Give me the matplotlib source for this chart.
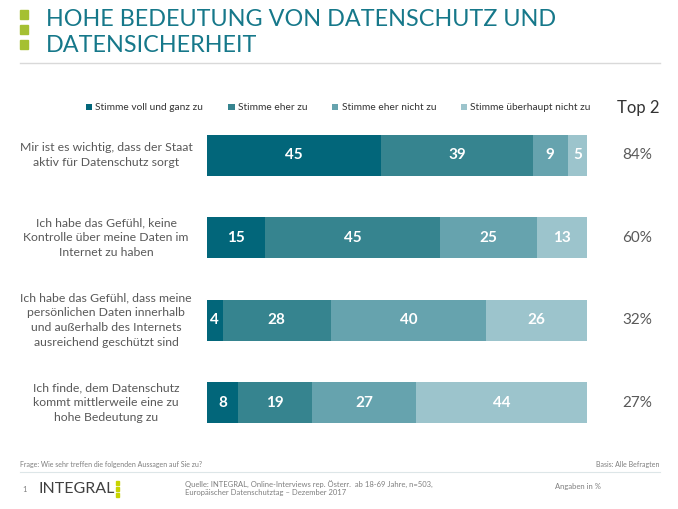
import matplotlib.pyplot as plt
from matplotlib.patches import Rectangle
import numpy as np

plt.rcParams['font.family'] = ['Lato', 'DejaVu Sans']

statements = [
    "Mir ist es wichtig, dass der Staat\naktiv für Datenschutz sorgt",
    "Ich habe das Gefühl, keine\nKontrolle über meine Daten im\nInternet zu haben",
    "Ich habe das Gefühl, dass meine\npersönlichen Daten innerhalb\nund außerhalb des Internets\nausreichend geschützt sind",
    "Ich finde, dem Datenschutz\nkommt mittlerweile eine zu\nhohe Bedeutung zu",
]
answers = ["Stimme voll und ganz zu", "Stimme eher zu",
           "Stimme eher nicht zu", "Stimme überhaupt nicht zu"]
voll = [45, 15, 4, 8]
eher = [39, 45, 28, 19]
eher_nicht = [9, 25, 40, 27]
gar_nicht = [5, 13, 26, 44]
top2 = ["84%", "60%", "32%", "27%"]

colors = ["#02667a", "#36848f", "#66a3ae", "#9cc4cc"]
grey = "#595959"

W, H = 678, 509
fig = plt.figure(figsize=(W / 100, H / 100), dpi=100)

# axes placed in pixel terms: bars start at x=207, 98 units = 380 px
left, right = 207, 207 + 380 / 98 * 100
top, bottom = 114, 444
ax = fig.add_axes([left / W, 1 - bottom / H, (right - left) / W, (bottom - top) / H])
ax.set_xlim(0, 100)
ax.set_ylim(3.5, -0.5)
ax.axis('off')

y = np.arange(len(statements))
series = [voll, eher, eher_nicht, gar_nicht]
start = np.zeros(len(statements))
handles = []
for vals, col, name in zip(series, colors, answers):
    bars = ax.barh(y, vals, left=start, height=0.5, color=col, label=name)
    handles.append(bars)
    for yi, v, s in zip(y, vals, start):
        ax.text(s + v / 2, yi, str(v), ha='center', va='center',
                color='white', fontsize=11, fontweight='bold')
    start = start + np.array(vals)

for yi, txt in zip(y, statements):
    ax.annotate(txt, xy=(0, yi), xycoords='data', xytext=(106 / W, yi),
                textcoords=('figure fraction', 'data'), ha='center', va='center',
                multialignment='center', color=grey, fontsize=8.8, linespacing=1.45)

for yi, t in zip(y, top2):
    ax.annotate(t, xy=(0, yi), xytext=(637 / W, yi),
                textcoords=('figure fraction', 'data'), ha='center', va='center',
                color=grey, fontsize=11)

fig.legend(handles=handles, labels=answers, loc='center right',
           bbox_to_anchor=(600 / W, 1 - 108 / H), ncol=4, frameon=False,
           fontsize=7.3, handlelength=0.6, handleheight=0.6, handletextpad=0.3,
           columnspacing=2.5, labelcolor='#333333')
fig.text(638 / W, 1 - 108 / H, "Top 2", ha='center', va='center',
         color='#333333', fontsize=12)

# title
title_col = "#16788a"
title_font = ['Liberation Sans Narrow', 'Lato']
fig.text(46 / W, 1 - 20 / H, "HOHE BEDEUTUNG VON DATENSCHUTZ UND",
         ha='left', va='center', color=title_col, fontsize=16.8, family=title_font)
fig.text(46 / W, 1 - 45 / H, "DATENSICHERHEIT",
         ha='left', va='center', color=title_col, fontsize=16.8, family=title_font)
for sy in (10, 25, 40):
    fig.patches.append(Rectangle((20 / W, 1 - (sy + 9) / H), 8 / W, 9 / H,
                                 transform=fig.transFigure, color="#a5c032"))
fig.add_artist(plt.Line2D([20 / W, 660 / W], [1 - 63 / H, 1 - 63 / H],
                          color='#d9d9d9', lw=1))

# footer
fig.text(20 / W, 1 - 464 / H, "Frage: Wie sehr treffen die folgenden Aussagen auf Sie zu?",
         ha='left', va='center', color='#7f7f7f', fontsize=5)
fig.text(660 / W, 1 - 464 / H, "Basis: Alle Befragten",
         ha='right', va='center', color='#7f7f7f', fontsize=5)
fig.add_artist(plt.Line2D([20 / W, 660 / W], [1 - 472 / H, 1 - 472 / H],
                          color='#dde6e8', lw=0.8))
fig.text(22 / W, 1 - 489 / H, "1", ha='left', va='center', color='#7f7f7f', fontsize=5.5)
fig.text(38 / W, 1 - 489 / H, "INTEGRAL", ha='left', va='center',
         color='#404040', fontsize=11.5)
for dy in (483, 489, 495):
    fig.patches.append(Rectangle((116 / W, 1 - (dy + 2) / H), 3 / W, 4 / H,
                                 transform=fig.transFigure, color="#c8d400"))
fig.text(185 / W, 1 - 484 / H,
         "Quelle: INTEGRAL, Online-Interviews rep. Österr.  ab 18-69 Jahre, n=503,",
         ha='left', va='center', color='#7f7f7f', fontsize=5.5)
fig.text(185 / W, 1 - 492 / H, "Europäischer Datenschutztag – Dezember 2017",
         ha='left', va='center', color='#7f7f7f', fontsize=5.5)
fig.text(555 / W, 1 - 487 / H, "Angaben in %", ha='left', va='center',
         color='#7f7f7f', fontsize=5.5)

fig.savefig("out.png", dpi=100)
